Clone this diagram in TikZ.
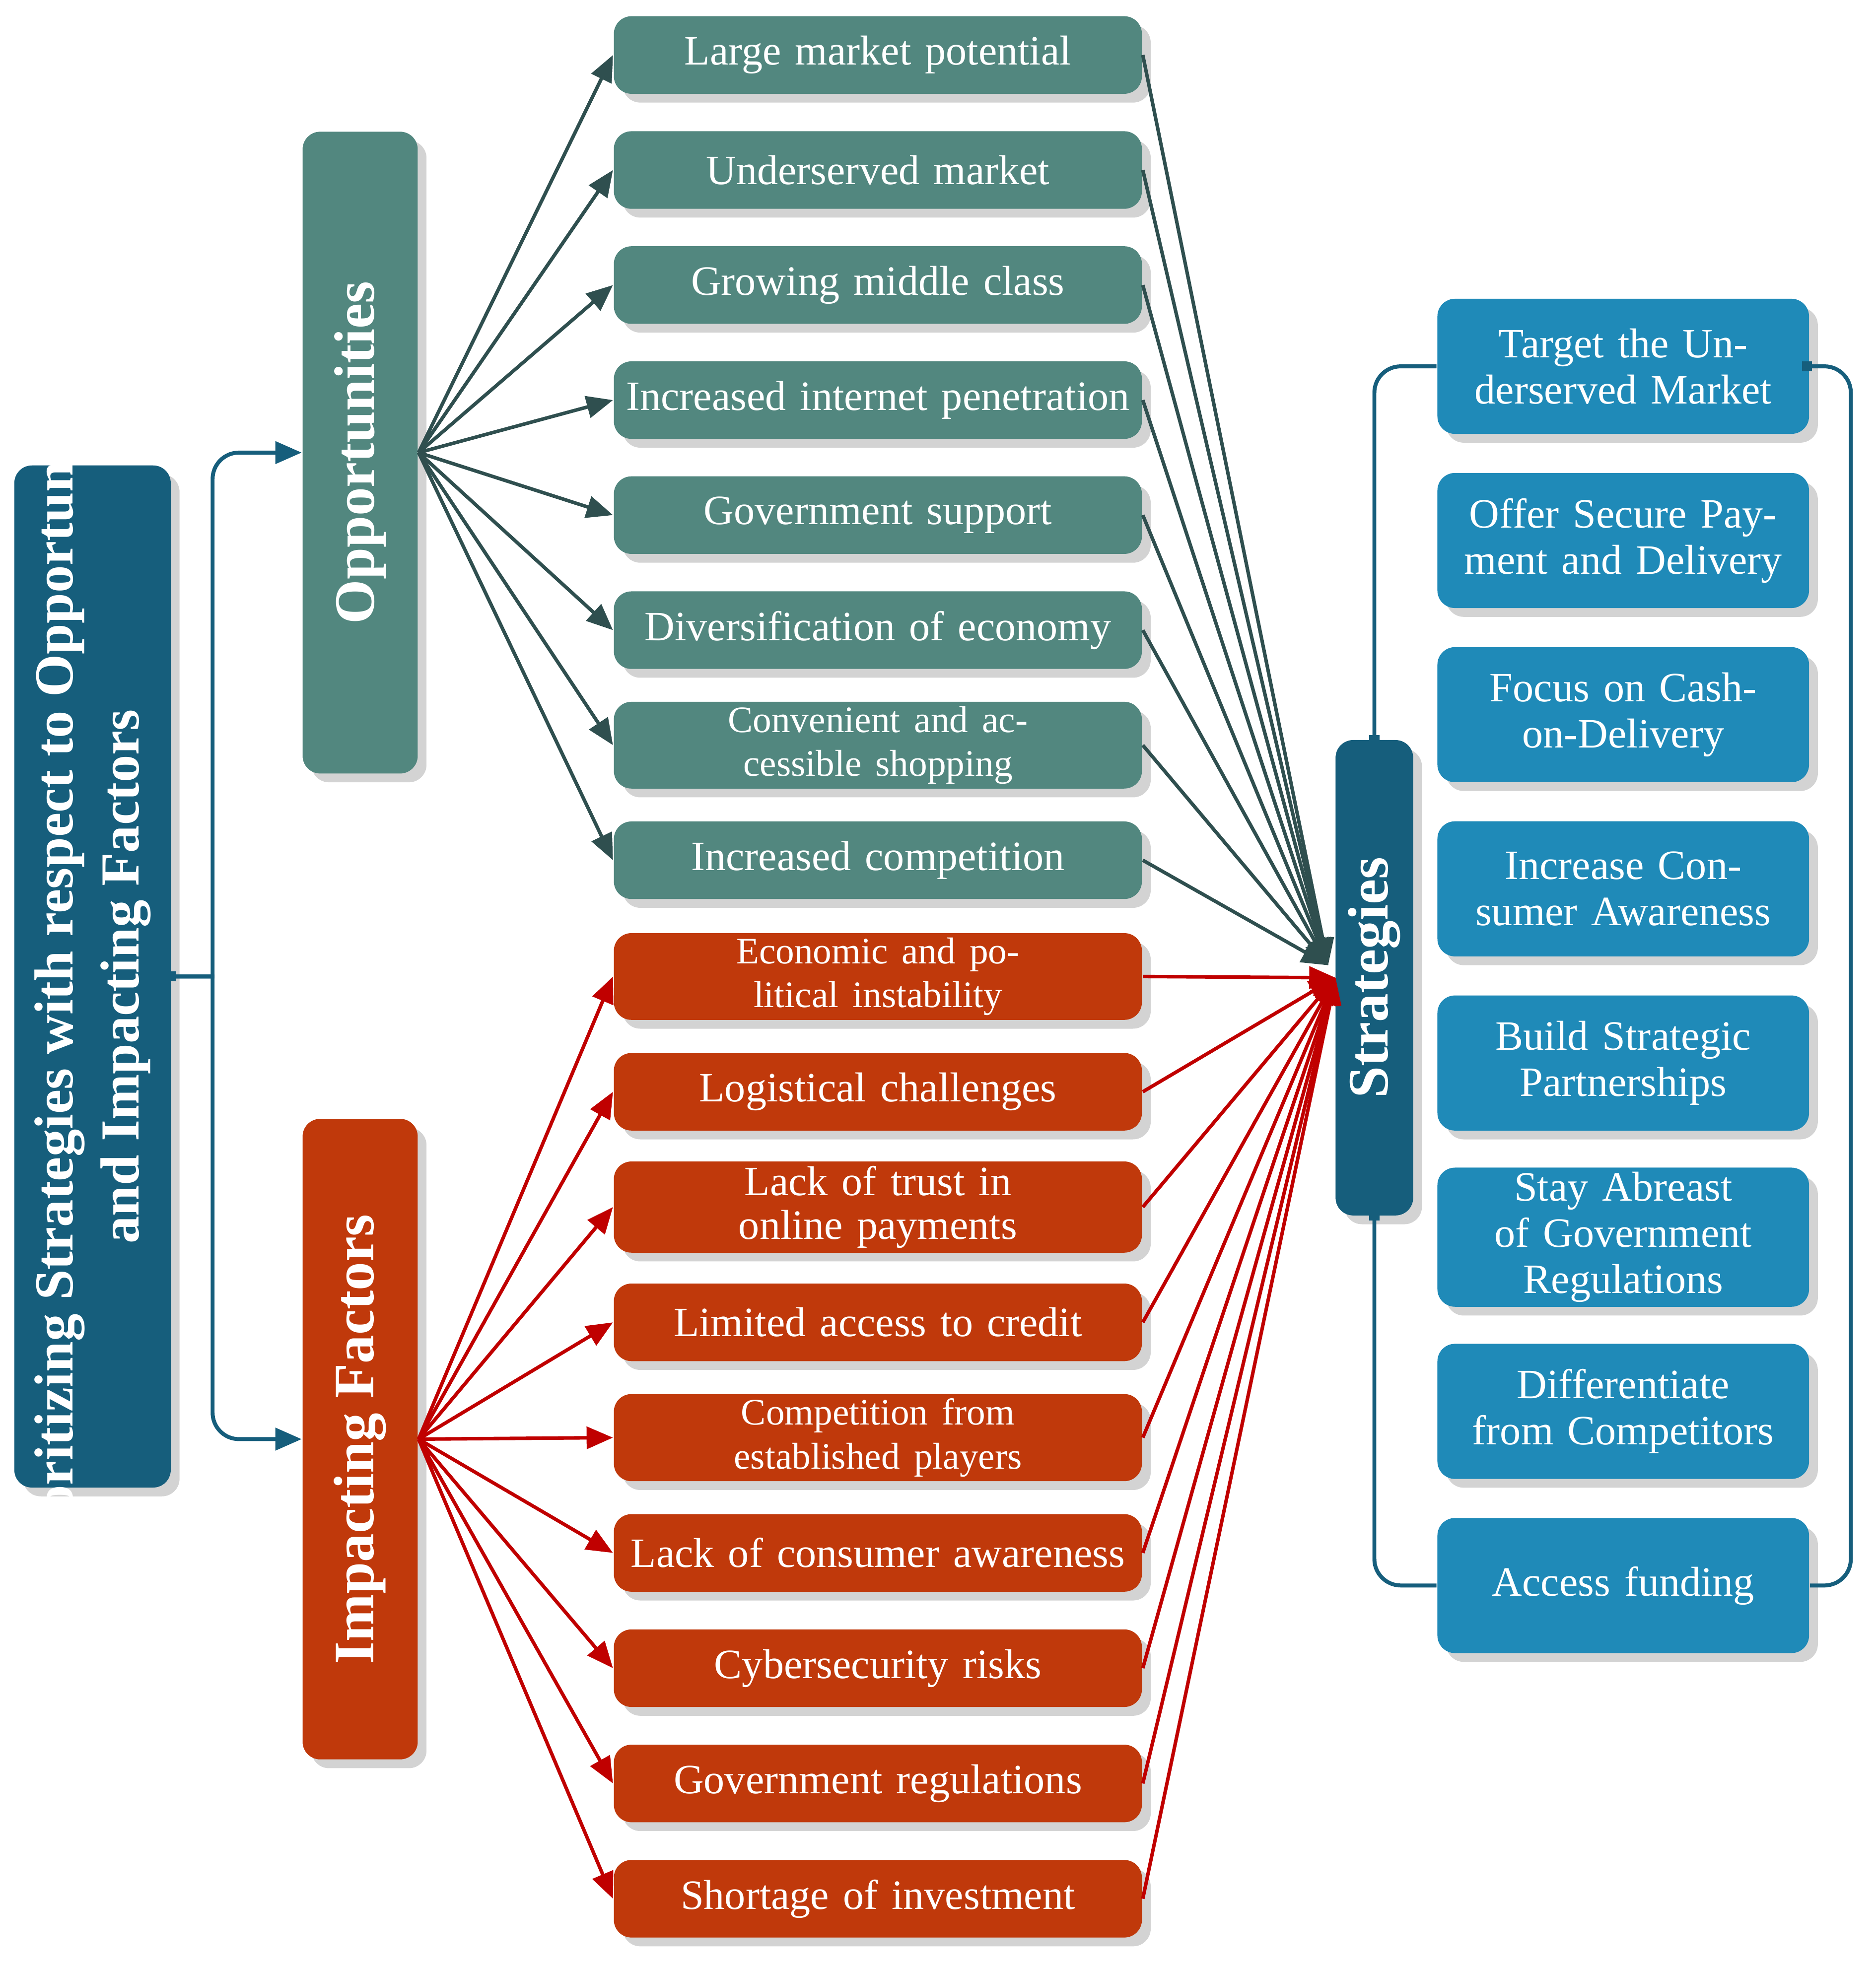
\documentclass[tikz,border=0pt]{standalone}
\usepackage{fontspec}
\setmainfont{Liberation Serif}
\usetikzlibrary{shadows,arrows.meta}
\definecolor{dteal}{HTML}{165E7C}
\definecolor{gteal}{HTML}{52877F}
\definecolor{rust}{HTML}{C0390B}
\definecolor{sblue}{HTML}{1F8AB8}
\definecolor{gline}{HTML}{2F4F4F}
\definecolor{rline}{HTML}{C00000}
\begin{document}
\begin{tikzpicture}[x=0.01cm,y=-0.01cm,
 box/.style={rounded corners=4pt,text=white,align=center,inner sep=1pt,drop shadow={opacity=0.35,shadow xshift=2pt,shadow yshift=-2pt}},
 opp/.style={box,fill=gteal,minimum width=4.22cm,minimum height=0.62cm,font=\fontsize{9.5}{10}\selectfont,text width=4.1cm},
 imp/.style={opp,fill=rust},
 strat/.style={box,fill=sblue,minimum width=2.93cm,minimum height=1.08cm,text width=2.9cm,font=\fontsize{9.5}{10.5}\selectfont},
 garr/.style={gline,line width=0.8pt,-{Triangle[length=6pt,width=5pt]}},
 rarr/.style={rline,line width=0.8pt,-{Triangle[length=6pt,width=5pt]}},
 brk/.style={dteal,line width=0.9pt}]
\useasboundingbox (0,0) rectangle (1500,1574);
\node[box,fill=dteal,minimum width=1.25cm,minimum height=8.17cm] (title) at (74,781) {};
\node[rotate=90,text=white,align=center,font=\fontsize{12.5}{15}\selectfont\bfseries] (tt) at (74,781) {Prioritizing Strategies with respect to Opportunities\\and Impacting Factors};
\node[box,fill=gteal,minimum width=0.92cm,minimum height=5.13cm] (opp) at (288,362) {};
\node[rotate=90,text=white,font=\fontsize{13}{15}\selectfont\bfseries] (oppt) at (288,362) {Opportunities};
\node[box,fill=rust,minimum width=0.92cm,minimum height=5.12cm] (imp) at (288,1151) {};
\node[rotate=90,text=white,font=\fontsize{13}{15}\selectfont\bfseries] (impt) at (288,1151) {Impacting Factors};
\node[box,fill=dteal,minimum width=0.62cm,minimum height=3.8cm] (str) at (1099,782) {};
\node[rotate=90,text=white,font=\fontsize{13}{15}\selectfont\bfseries] (strt) at (1099,782) {Strategies};
\foreach \t [count=\i] in {Large market potential,Underserved market,Growing middle class,Increased internet penetration,Government support,Diversification of economy,{\fontsize{8.5}{9.5}\selectfont Convenient and accessible shopping},Increased competition}{
 \node[opp] (o\i) at (702,{44+92*(\i-1)}) {\t};
 \draw[garr] (opp.east) -- (o\i.west);
}
\foreach \t [count=\i] in {{\fontsize{8.5}{9.5}\selectfont Economic and political instability},Logistical challenges,Lack of trust in online payments,Limited access to credit,{\fontsize{8.5}{9.5}\selectfont Competition from established players},Lack of consumer awareness,Cybersecurity risks,Government regulations,Shortage of investment}{
 \node[imp] (m\i) at (702,{781+92.2*(\i-1)}) {\t};
 \draw[rarr] (imp.east) -- (m\i.west);
}
\coordinate (gt) at (1062,772);
\coordinate (rt) at (1068,782);
\foreach \i in {1,...,8}{\draw[garr] (o\i.east) -- (gt);}
\foreach \i in {1,...,9}{\draw[rarr] (m\i.east) -- (rt);}
\foreach \t [count=\i] in {Target the Underserved Market,Offer Secure Payment and Delivery,Focus on Cash-on-Delivery,Increase Consumer Awareness,Build Strategic Partnerships,Stay Abreast of Government Regulations,Differentiate from Competitors,Access funding}{
 \node[strat] (s\i) at (1298,{293+139.3*(\i-1)}) {\t};
}
\coordinate (tb) at (137,781);
\draw[brk,-{Triangle[length=6pt,width=5pt]}] (tb) -- (170,781) [rounded corners=6pt]-- (170,362) -- (opp.west);
\draw[brk,-{Triangle[length=6pt,width=5pt]}] (tb) -- (170,781) [rounded corners=6pt]-- (170,1151) -- (imp.west);
\fill[dteal] (133,777) rectangle (141,785);
\draw[brk,rounded corners=6pt] (str.north) -- (1099,293) -- (s1.west);
\draw[brk,rounded corners=6pt] (str.south) -- (1099,1268) -- (s8.west);
\draw[brk,rounded corners=6pt] (s1.east) -- (1480,293) -- (1480,1268) -- (s8.east);
\fill[dteal] (1095,588) rectangle (1103,596);
\fill[dteal] (1095,968) rectangle (1103,976);
\fill[dteal] (1441,289) rectangle (1449,297);
\end{tikzpicture}
\end{document}
